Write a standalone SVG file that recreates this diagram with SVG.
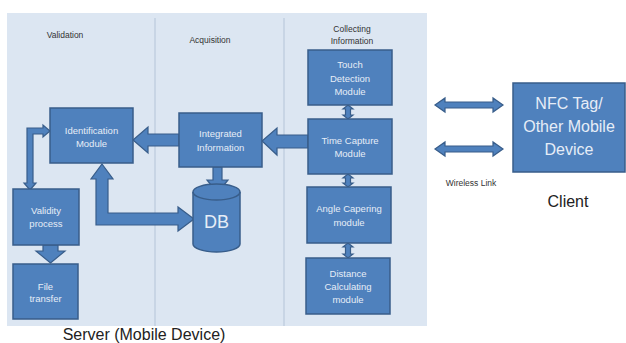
<svg xmlns="http://www.w3.org/2000/svg" width="626" height="343" viewBox="0 0 626 343">
<style>
.box{fill:#4F81BD;stroke:#385D8A;stroke-width:1.5}
.arr{fill:#4F81BD;stroke:#385D8A;stroke-width:1.2;stroke-linejoin:miter}
.t{font-family:"Liberation Sans",Arial,sans-serif;font-size:9.5px;fill:#E6EDF7;text-anchor:middle}
.h{font-family:"Liberation Sans",Arial,sans-serif;font-size:8.5px;fill:#333;text-anchor:middle}
.big{font-family:"Liberation Sans",Arial,sans-serif;fill:#222;text-anchor:middle}
.nfc{font-family:"Liberation Sans",Arial,sans-serif;font-size:16px;fill:#E6EDF7;text-anchor:middle}
</style>
<rect width="626" height="343" fill="#fff"/>
<rect x="7" y="13" width="420" height="313" fill="#DCE6F2"/>
<line x1="155" y1="18" x2="155" y2="326" stroke="#B4C4D8" stroke-width="1"/>
<line x1="284" y1="18" x2="284" y2="326" stroke="#B4C4D8" stroke-width="1"/>
<text class="h" x="65" y="38">Validation</text>
<text class="h" x="210" y="43">Acquisition</text>
<text class="h" x="352" y="32">Collecting</text>
<text class="h" x="352" y="44">Information</text>

<g id="connectors">
<polygon class="arr" points="179,134 148,134 148,127 133,140 148,153 148,146 179,146"/>
<polygon class="arr" points="308,135 277,135 277,128 262,141 277,155 277,148 308,148"/>
<polygon class="arr" points="213,167 222,167 222,180 228,180 217.5,193 207,180 213,180"/>
<polygon class="arr" points="102,164 113,179 108,179 108,213 178,213 178,207 194,219 178,231 178,225 96,225 96,179 91,179"/>
<polygon class="arr" points="33,134 43,134 43,137 50,131 43,125 43,128 27,128 27,183 24,183 30,190 36,183 33,183"/>
<polygon class="arr" points="43,245 58,245 58,251 65,251 50.5,263 36,251 43,251"/>
<polygon class="arr" points="348,105 353,109 350.5,109 350.5,115 353,115 348,119 343,115 345.5,115 345.5,109 343,109"/>
<polygon class="arr" points="348,174 353,178 350.5,178 350.5,183 353,183 348,187 343,183 345.5,183 345.5,178 343,178"/>
<polygon class="arr" points="348,243 353,247 350.5,247 350.5,254 353,254 348,258 343,254 345.5,254 345.5,247 343,247"/>
<polygon class="arr" points="435,105 445,98 445,102 493,102 493,98 503,105 493,112 493,108 445,108 445,112"/>
<polygon class="arr" points="435,149 445,142 445,146 493,146 493,142 503,149 493,156 493,152 445,152 445,156"/>
</g>

<g id="identification">
<rect class="box" x="50" y="108" width="83" height="55"/>
<text class="t" x="91.5" y="133.5">Identification</text>
<text class="t" x="91.5" y="146.5">Module</text>
</g>
<g id="integrated">
<rect class="box" x="179" y="113" width="83" height="54"/>
<text class="t" x="220.5" y="136.5">Integrated</text>
<text class="t" x="220.5" y="150.5">Information</text>
</g>
<g id="db">
<path class="box" d="M193,192 A23.5,8 0 0 1 240,192 V244 A23.5,8 0 0 1 193,244 Z"/>
<path d="M193,192 A23.5,8 0 0 0 240,192" fill="none" stroke="#385D8A" stroke-width="1.5"/>
<text x="216.5" y="228" font-family="'Liberation Sans',Arial,sans-serif" font-size="18" fill="#E6EDF7" text-anchor="middle">DB</text>
</g>
<g id="touch">
<rect class="box" x="308" y="50" width="84" height="55"/>
<text class="t" x="350" y="68">Touch</text>
<text class="t" x="350" y="82">Detection</text>
<text class="t" x="350" y="95">Module</text>
</g>
<g id="time">
<rect class="box" x="308" y="119" width="84" height="55"/>
<text class="t" x="350" y="143.5">Time Capture</text>
<text class="t" x="350" y="156.5">Module</text>
</g>
<g id="angle">
<rect class="box" x="307" y="187" width="84" height="56"/>
<text class="t" x="349" y="211.5">Angle Capering</text>
<text class="t" x="349" y="225.5">module</text>
</g>
<g id="distance">
<rect class="box" x="306" y="258" width="84" height="56"/>
<text class="t" x="348" y="276.5">Distance</text>
<text class="t" x="348" y="290">Calculating</text>
<text class="t" x="348" y="303">module</text>
</g>
<g id="validity">
<rect class="box" x="13" y="189" width="66" height="56"/>
<text class="t" x="46" y="213.5">Validity</text>
<text class="t" x="46" y="226.5">process</text>
</g>
<g id="file">
<rect class="box" x="13" y="264" width="65" height="55"/>
<text class="t" x="45.5" y="289.5">File</text>
<text class="t" x="45.5" y="302">transfer</text>
</g>
<g id="nfc">
<rect class="box" x="513" y="83" width="112" height="89"/>
<text class="nfc" x="569" y="109">NFC Tag/</text>
<text class="nfc" x="569" y="132">Other Mobile</text>
<text class="nfc" x="569" y="155">Device</text>
</g>
<text class="h" x="471" y="186">Wireless Link</text>
<text class="big" x="568" y="207" font-size="16">Client</text>
<text class="big" x="144" y="340" font-size="16">Server (Mobile Device)</text>
</svg>
